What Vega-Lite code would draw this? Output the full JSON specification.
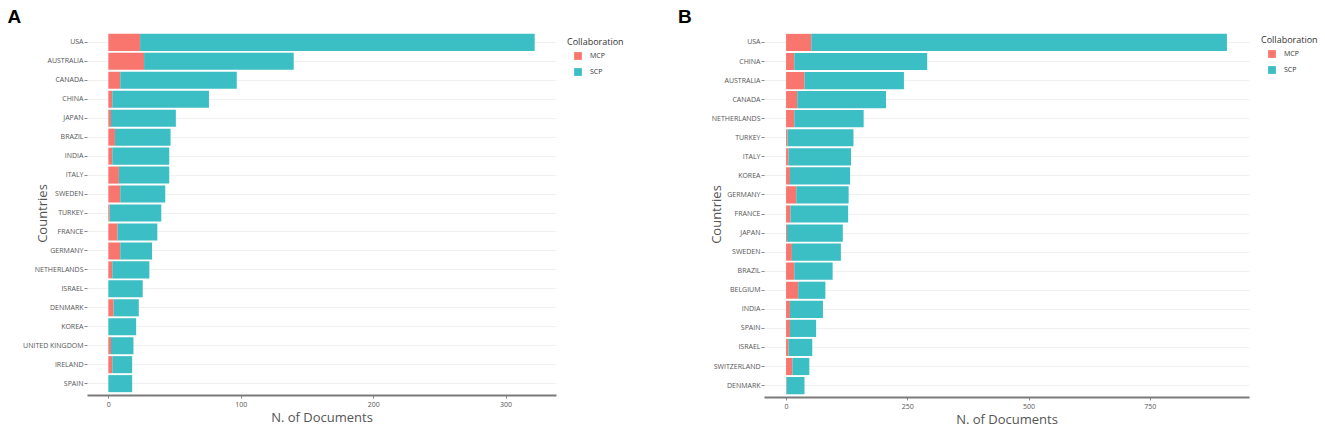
{
  "$schema": "https://vega.github.io/schema/vega-lite/v6.json",
  "padding": {"left": 7, "top": 8, "right": 0, "bottom": 0},
  "background": "white",
  "datasets": {
    "A": [
      {"country": "USA", "collab": "MCP", "n": 24}, {"country": "USA", "collab": "SCP", "n": 298},
      {"country": "AUSTRALIA", "collab": "MCP", "n": 27}, {"country": "AUSTRALIA", "collab": "SCP", "n": 113},
      {"country": "CANADA", "collab": "MCP", "n": 9}, {"country": "CANADA", "collab": "SCP", "n": 88},
      {"country": "CHINA", "collab": "MCP", "n": 3}, {"country": "CHINA", "collab": "SCP", "n": 73},
      {"country": "JAPAN", "collab": "MCP", "n": 2}, {"country": "JAPAN", "collab": "SCP", "n": 49},
      {"country": "BRAZIL", "collab": "MCP", "n": 5}, {"country": "BRAZIL", "collab": "SCP", "n": 42},
      {"country": "INDIA", "collab": "MCP", "n": 3}, {"country": "INDIA", "collab": "SCP", "n": 43},
      {"country": "ITALY", "collab": "MCP", "n": 8}, {"country": "ITALY", "collab": "SCP", "n": 38},
      {"country": "SWEDEN", "collab": "MCP", "n": 9}, {"country": "SWEDEN", "collab": "SCP", "n": 34},
      {"country": "TURKEY", "collab": "MCP", "n": 1}, {"country": "TURKEY", "collab": "SCP", "n": 39},
      {"country": "FRANCE", "collab": "MCP", "n": 7}, {"country": "FRANCE", "collab": "SCP", "n": 30},
      {"country": "GERMANY", "collab": "MCP", "n": 9}, {"country": "GERMANY", "collab": "SCP", "n": 24},
      {"country": "NETHERLANDS", "collab": "MCP", "n": 3}, {"country": "NETHERLANDS", "collab": "SCP", "n": 28},
      {"country": "ISRAEL", "collab": "MCP", "n": 0}, {"country": "ISRAEL", "collab": "SCP", "n": 26},
      {"country": "DENMARK", "collab": "MCP", "n": 4}, {"country": "DENMARK", "collab": "SCP", "n": 19},
      {"country": "KOREA", "collab": "MCP", "n": 0}, {"country": "KOREA", "collab": "SCP", "n": 21},
      {"country": "UNITED KINGDOM", "collab": "MCP", "n": 2}, {"country": "UNITED KINGDOM", "collab": "SCP", "n": 17},
      {"country": "IRELAND", "collab": "MCP", "n": 3}, {"country": "IRELAND", "collab": "SCP", "n": 15},
      {"country": "SPAIN", "collab": "MCP", "n": 0}, {"country": "SPAIN", "collab": "SCP", "n": 18}
    ],
    "B": [
      {"country": "USA", "collab": "MCP", "n": 52}, {"country": "USA", "collab": "SCP", "n": 857},
      {"country": "CHINA", "collab": "MCP", "n": 17}, {"country": "CHINA", "collab": "SCP", "n": 274},
      {"country": "AUSTRALIA", "collab": "MCP", "n": 38}, {"country": "AUSTRALIA", "collab": "SCP", "n": 205},
      {"country": "CANADA", "collab": "MCP", "n": 23}, {"country": "CANADA", "collab": "SCP", "n": 183},
      {"country": "NETHERLANDS", "collab": "MCP", "n": 17}, {"country": "NETHERLANDS", "collab": "SCP", "n": 143},
      {"country": "TURKEY", "collab": "MCP", "n": 3}, {"country": "TURKEY", "collab": "SCP", "n": 136},
      {"country": "ITALY", "collab": "MCP", "n": 5}, {"country": "ITALY", "collab": "SCP", "n": 129},
      {"country": "KOREA", "collab": "MCP", "n": 8}, {"country": "KOREA", "collab": "SCP", "n": 124},
      {"country": "GERMANY", "collab": "MCP", "n": 21}, {"country": "GERMANY", "collab": "SCP", "n": 108},
      {"country": "FRANCE", "collab": "MCP", "n": 9}, {"country": "FRANCE", "collab": "SCP", "n": 119},
      {"country": "JAPAN", "collab": "MCP", "n": 2}, {"country": "JAPAN", "collab": "SCP", "n": 115},
      {"country": "SWEDEN", "collab": "MCP", "n": 12}, {"country": "SWEDEN", "collab": "SCP", "n": 101},
      {"country": "BRAZIL", "collab": "MCP", "n": 17}, {"country": "BRAZIL", "collab": "SCP", "n": 79},
      {"country": "BELGIUM", "collab": "MCP", "n": 25}, {"country": "BELGIUM", "collab": "SCP", "n": 56},
      {"country": "INDIA", "collab": "MCP", "n": 8}, {"country": "INDIA", "collab": "SCP", "n": 68},
      {"country": "SPAIN", "collab": "MCP", "n": 8}, {"country": "SPAIN", "collab": "SCP", "n": 54},
      {"country": "ISRAEL", "collab": "MCP", "n": 5}, {"country": "ISRAEL", "collab": "SCP", "n": 49},
      {"country": "SWITZERLAND", "collab": "MCP", "n": 13}, {"country": "SWITZERLAND", "collab": "SCP", "n": 35},
      {"country": "DENMARK", "collab": "MCP", "n": 1}, {"country": "DENMARK", "collab": "SCP", "n": 37}
    ]
  },
  "config": {
    "view": {"stroke": null},
    "font": "Open Sans",
    "axis": {
      "labelFont": "Open Sans", "labelColor": "#555555", "labelFontSize": 7,
      "titleFont": "Open Sans", "titleFontWeight": "normal", "titleColor": "#555555", "titleFontSize": 13,
      "tickColor": "#888888", "tickSize": 3
    },
    "axisY": {"domain": false, "grid": true, "gridColor": "#f0f0f0", "gridWidth": 1, "labelPadding": 1, "titleAngle": -90, "titleBaseline": "middle", "titleAlign": "center"},
    "axisX": {"domainColor": "#7a7a7a", "domainWidth": 2, "grid": false, "labelPadding": 2, "titlePadding": 4},
    "legend": {
      "orient": "none", "titleFont": "Open Sans", "titleFontWeight": "normal", "titleFontSize": 9, "titleColor": "#333333",
      "labelFont": "Open Sans", "labelFontSize": 7, "labelColor": "#333333", "symbolType": "square", "symbolSize": 60,
      "symbolStrokeWidth": 0, "rowPadding": 8, "labelOffset": 8, "titlePadding": 5, "symbolOffset": 7
    },
    "title": {"font": "Liberation Sans", "fontSize": 19, "fontWeight": "bold", "color": "#000000", "anchor": "start", "frame": "bounds", "baseline": "alphabetic"}
  },
  "spacing": 54,
  "resolve": {"scale": {"x": "independent", "y": "independent", "color": "independent"}, "legend": {"color": "independent"}},
  "hconcat": [
    {
      "title": {"text": "A", "dx": -15, "offset": 4},
      "width": 469, "height": 364,
      "data": {"name": "A"},
      "mark": {"type": "bar"},
      "encoding": {
        "y": {"field": "country", "type": "nominal", "title": "Countries",
          "sort": ["USA","AUSTRALIA","CANADA","CHINA","JAPAN","BRAZIL","INDIA","ITALY","SWEDEN","TURKEY","FRANCE","GERMANY","NETHERLANDS","ISRAEL","DENMARK","KOREA","UNITED KINGDOM","IRELAND","SPAIN"],
          "scale": {"paddingInner": 0.1, "paddingOuter": 0.15},
          "axis": {"titleX": -45}},
        "x": {"field": "n", "type": "quantitative", "aggregate": "sum", "stack": "zero", "title": "N. of Documents",
          "scale": {"domain": [-16.1, 338.1], "nice": false, "zero": false},
          "axis": {"values": [0, 100, 200, 300]}},
        "color": {"field": "collab", "type": "nominal", "title": "Collaboration",
          "scale": {"domain": ["MCP", "SCP"], "range": ["#F8766D", "#3BBEC4"]},
          "legend": {"legendX": 480, "legendY": 7}},
        "order": {"field": "collab"}
      }
    },
    {
      "title": {"text": "B", "dx": -32, "offset": 4},
      "width": 485, "height": 366,
      "data": {"name": "B"},
      "mark": {"type": "bar"},
      "encoding": {
        "y": {"field": "country", "type": "nominal", "title": "Countries",
          "sort": ["USA","CHINA","AUSTRALIA","CANADA","NETHERLANDS","TURKEY","ITALY","KOREA","GERMANY","FRANCE","JAPAN","SWEDEN","BRAZIL","BELGIUM","INDIA","SPAIN","ISRAEL","SWITZERLAND","DENMARK"],
          "scale": {"paddingInner": 0.1, "paddingOuter": 0.15},
          "axis": {"titleX": -48}},
        "x": {"field": "n", "type": "quantitative", "aggregate": "sum", "stack": "zero", "title": "N. of Documents",
          "scale": {"domain": [-45.5, 954.5], "nice": false, "zero": false},
          "axis": {"values": [0, 250, 500, 750]}},
        "color": {"field": "collab", "type": "nominal", "title": "Collaboration",
          "scale": {"domain": ["MCP", "SCP"], "range": ["#F8766D", "#3BBEC4"]},
          "legend": {"legendX": 497, "legendY": 5}},
        "order": {"field": "collab"}
      }
    }
  ]
}
